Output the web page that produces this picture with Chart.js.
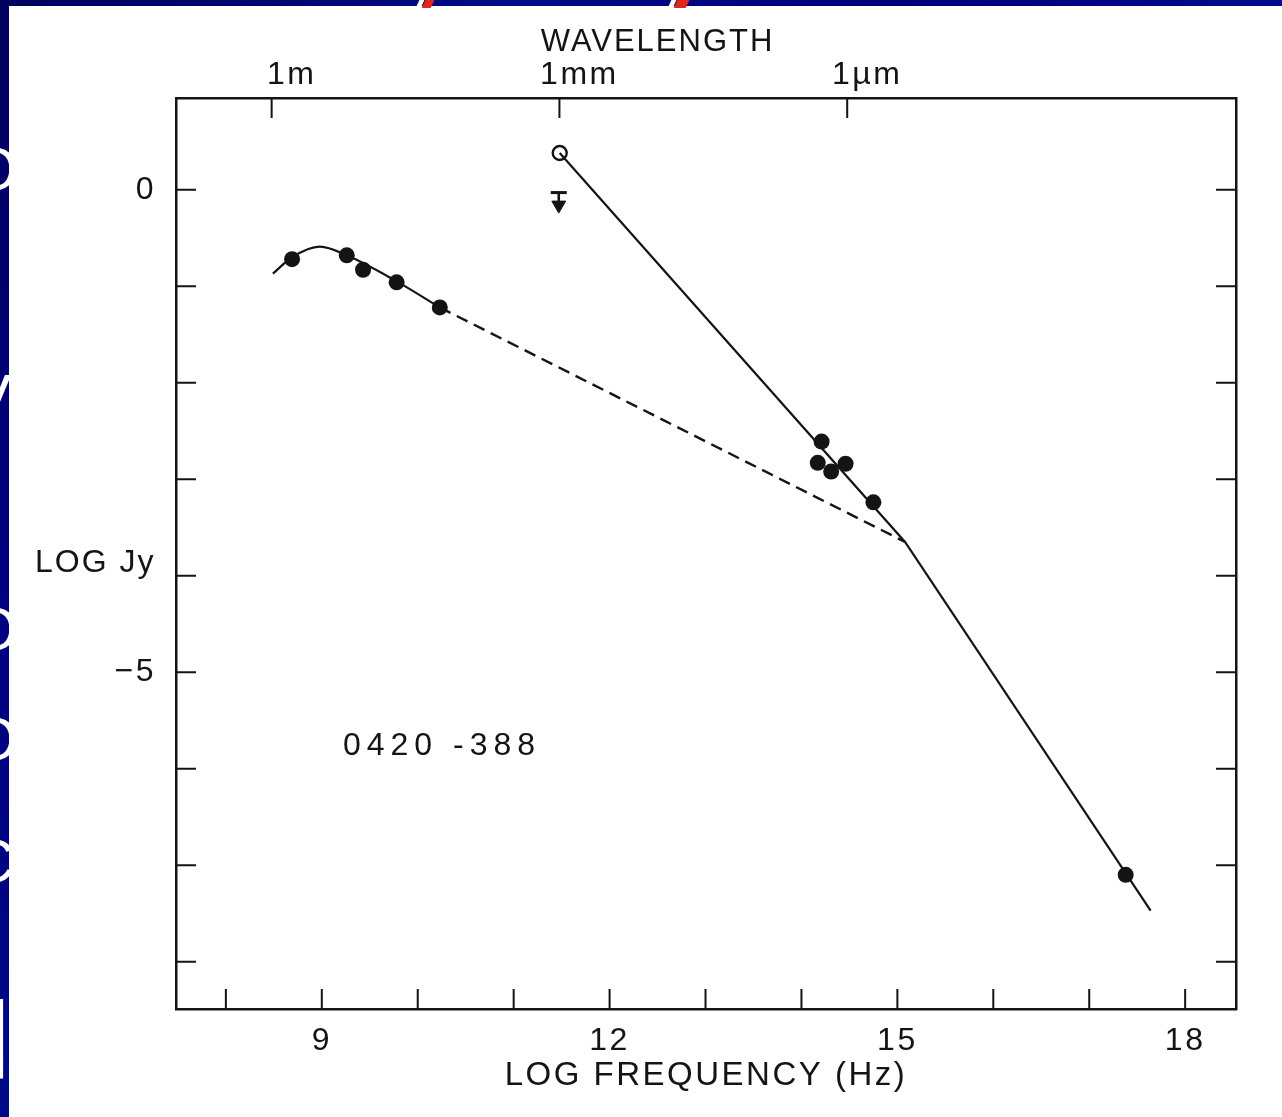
<!DOCTYPE html>
<html>
<head>
<meta charset="utf-8">
<script src="https://cdn.jsdelivr.net/npm/chart.js@4.4.0/dist/chart.umd.min.js"></script>
<style>
    body { margin: 0; background: #fff; overflow: hidden; }
    #wrap { position: relative; width: 1282px; height: 1117px; background: #fff; }
    #sed { position: absolute; left: 0; top: 0; }
    .band-top { position: absolute; left: 0; top: 0; width: 1282px; height: 6px;
        background: linear-gradient(90deg, #00005c, #000a86 40%, #00007a 70%, #000a8c); }
    .band-left { position: absolute; left: 0; top: 0; width: 9px; height: 1117px; overflow: hidden;
        background: linear-gradient(180deg, #00005c, #00007e 50%, #000a86); }
    .frag { position: absolute; left: -30px; color: #fff; font: 62px "Liberation Sans", sans-serif; line-height: 1; }
    .slash { position: absolute; top: -2px; width: 9px; height: 10px; transform: skewX(-25deg); }
</style>
</head>
<body>
<div id="wrap">
    <canvas id="sed" width="1282" height="1117"></canvas>
    <div class="band-top"></div>
    <div class="slash" style="left:418px;background:#fff;width:5px"></div>
    <div class="slash" style="left:424px;background:#e0261c"></div>
    <div class="slash" style="left:670px;background:#fff;width:5px"></div>
    <div class="slash" style="left:676px;background:#e0261c;width:12px"></div>
    <div class="band-left">
        <div class="frag" style="top:138px">O</div>
        <div class="frag" style="top:365px">V</div>
        <div class="frag" style="top:598px">O</div>
        <div class="frag" style="top:708px">O</div>
        <div class="frag" style="top:830px">C</div>
        <div class="frag" style="top:985px;left:-14px;font-size:110px">l</div>
    </div>
</div>
<script>
// axis ranges (log units)
const freqMin = 7.48, freqMax = 18.53;
const fluxMin = -8.49, fluxMax = 0.95;

// tick marks
const freqTicks = [8, 9, 10, 11, 12, 13, 14, 15, 16, 17, 18];
const freqLabeled = [9, 12, 15, 18];
const fluxTicks = [-8, -7, -6, -5, -4, -3, -2, -1, 0];
const fluxLabeled = [0, -5];
const waveTickPos = [8.477, 11.477, 14.477];       // log(c / lambda)
const waveTickLabels = ['1m', '1mm', '1\u00b5m'];

// measured points
const radioX = [8.69, 9.26, 9.43, 9.78, 10.23];
const radioY = [-0.72, -0.68, -0.83, -0.96, -1.22];
const irX = [14.21, 14.17, 14.31, 14.46, 14.75];
const irY = [-2.61, -2.83, -2.92, -2.84, -3.24];
const xrayX = [17.38];
const xrayY = [-7.10];
const mmX = [11.48];
const mmY = [0.38];
const limitX = [11.47, 11.47];
const limitY = [-0.03, -0.16];

// drawn fits
const radioFitX = [8.49, 8.69, 8.98, 9.26, 9.78, 10.23];
const radioFitY = [-0.87, -0.70, -0.59, -0.68, -0.95, -1.22];
const dashFitX = [10.23, 15.08];
const dashFitY = [-1.22, -3.65];
const steepFitX = [11.48, 15.08, 17.64];
const steepFitY = [0.38, -3.65, -7.47];

const INK = '#141414';
const FONT = '"Liberation Sans", Arial, sans-serif';

function pts(xs, ys) {
    return xs.map((x, i) => ({ x: x, y: ys[i] }));
}

// the old lettering is spaced out a little
const spacing = {
    id: 'spacing',
    beforeDraw(chart) { chart.ctx.letterSpacing = '2.5px'; }
};

const frameExtras = {
    id: 'frameExtras',
    afterDraw(chart) {
        const { ctx, chartArea: ca, scales } = chart;
        const tickLen = 20;
        ctx.save();
        ctx.strokeStyle = INK;
        ctx.lineWidth = 2;
        ctx.beginPath();
        scales.x.ticks.forEach(t => {
            const px = scales.x.getPixelForValue(t.value);
            ctx.moveTo(px, ca.bottom); ctx.lineTo(px, ca.bottom - tickLen);
        });
        scales.x2.ticks.forEach(t => {
            const px = scales.x2.getPixelForValue(t.value);
            ctx.moveTo(px, ca.top); ctx.lineTo(px, ca.top + tickLen);
        });
        scales.y.ticks.forEach(t => {
            const py = scales.y.getPixelForValue(t.value);
            ctx.moveTo(ca.left, py); ctx.lineTo(ca.left + tickLen, py);
        });
        scales.y2.ticks.forEach(t => {
            const py = scales.y2.getPixelForValue(t.value);
            ctx.moveTo(ca.right, py); ctx.lineTo(ca.right - tickLen, py);
        });
        ctx.stroke();

        ctx.fillStyle = INK;
        ctx.textBaseline = 'middle';
        ctx.font = '31px ' + FONT;
        ctx.textAlign = 'center';
        ctx.letterSpacing = '2px';
        ctx.fillText('WAVELENGTH', scales.x2.getPixelForValue(12.5), ca.top - 56);
        ctx.font = '32px ' + FONT;
        ctx.textAlign = 'left';
        ctx.fillText('LOG Jy', 35, scales.y.getPixelForValue(-3.87));
        ctx.letterSpacing = '6px';
        ctx.fillText('0420 -388', scales.x.getPixelForValue(9.22), scales.y.getPixelForValue(-5.77));
        ctx.restore();
    }
};

const ctx = document.getElementById('sed').getContext('2d');
new Chart(ctx, {
    type: 'scatter',
    data: {
        datasets: [
            {
                label: 'radio fit',
                data: pts(radioFitX, radioFitY),
                showLine: true, borderColor: INK, borderWidth: 2.2,
                cubicInterpolationMode: 'monotone', pointRadius: 0
            },
            {
                label: 'extrapolation',
                data: pts(dashFitX, dashFitY),
                showLine: true, borderColor: INK, borderWidth: 2.4,
                borderDash: [12, 7], pointRadius: 0
            },
            {
                label: 'synchrotron',
                data: pts(steepFitX, steepFitY),
                showLine: true, borderColor: INK, borderWidth: 2.2, pointRadius: 0
            },
            {
                label: 'radio',
                data: pts(radioX, radioY),
                backgroundColor: INK, borderColor: INK, pointRadius: 8, borderWidth: 0
            },
            {
                label: 'optical/IR',
                data: pts(irX, irY),
                backgroundColor: INK, borderColor: INK, pointRadius: 8, borderWidth: 0
            },
            {
                label: 'X-ray',
                data: pts(xrayX, xrayY),
                backgroundColor: INK, borderColor: INK, pointRadius: 8, borderWidth: 0
            },
            {
                label: 'mm',
                data: pts(mmX, mmY),
                backgroundColor: '#fff', borderColor: INK, pointRadius: 7, borderWidth: 2.4
            },
            {
                label: 'upper limit',
                data: pts(limitX, limitY),
                showLine: true, borderColor: INK, borderWidth: 2.6,
                pointStyle: ['line', 'triangle'], pointRotation: [0, 180],
                pointRadius: [8, 8], backgroundColor: INK, pointBorderWidth: [3, 1]
            }
        ]
    },
    options: {
        responsive: false,
        animation: false,
        layout: { padding: 0 },
        plugins: { legend: { display: false }, tooltip: { enabled: false } },
        scales: {
            x: {
                type: 'linear', position: 'bottom', min: freqMin, max: freqMax,
                afterBuildTicks: s => { s.ticks = freqTicks.map(v => ({ value: v })); },
                afterFit: s => { s.height = 108; },
                grid: { display: false, drawTicks: false },
                border: { display: true, color: INK, width: 2.5 },
                ticks: {
                    autoSkip: false, maxRotation: 0, padding: 13, color: INK,
                    font: { family: FONT, size: 32 },
                    callback: v => freqLabeled.includes(v) ? String(v) : ''
                },
                title: {
                    display: true, text: 'LOG FREQUENCY (Hz)', color: INK,
                    font: { family: FONT, size: 33 }, padding: { top: 0, bottom: 21 }
                }
            },
            x2: {
                type: 'linear', position: 'top', min: freqMin, max: freqMax,
                afterBuildTicks: s => { s.ticks = waveTickPos.map(v => ({ value: v })); },
                afterFit: s => { s.height = 98; },
                grid: { display: false, drawTicks: false },
                border: { display: true, color: INK, width: 2.5 },
                ticks: {
                    autoSkip: false, maxRotation: 0, padding: 4, labelOffset: 20, color: INK,
                    font: { family: FONT, size: 32 },
                    callback: (v, i) => waveTickLabels[i]
                }
            },
            y: {
                type: 'linear', position: 'left', min: fluxMin, max: fluxMax,
                afterBuildTicks: s => { s.ticks = fluxTicks.map(v => ({ value: v })); },
                afterFit: s => { s.width = 176; },
                grid: { display: false, drawTicks: false },
                border: { display: true, color: INK, width: 2.5 },
                ticks: {
                    autoSkip: false, padding: 20, color: INK,
                    font: { family: FONT, size: 32 },
                    callback: v => fluxLabeled.includes(v) ? (v < 0 ? '\u2212' + Math.abs(v) : String(v)) : ''
                }
            },
            y2: {
                type: 'linear', position: 'right', min: fluxMin, max: fluxMax,
                afterBuildTicks: s => { s.ticks = fluxTicks.map(v => ({ value: v })); },
                afterFit: s => { s.width = 46; },
                grid: { display: false, drawTicks: false },
                border: { display: true, color: INK, width: 2.5 },
                ticks: { display: false }
            }
        }
    },
    plugins: [spacing, frameExtras]
});
</script>
</body>
</html>
